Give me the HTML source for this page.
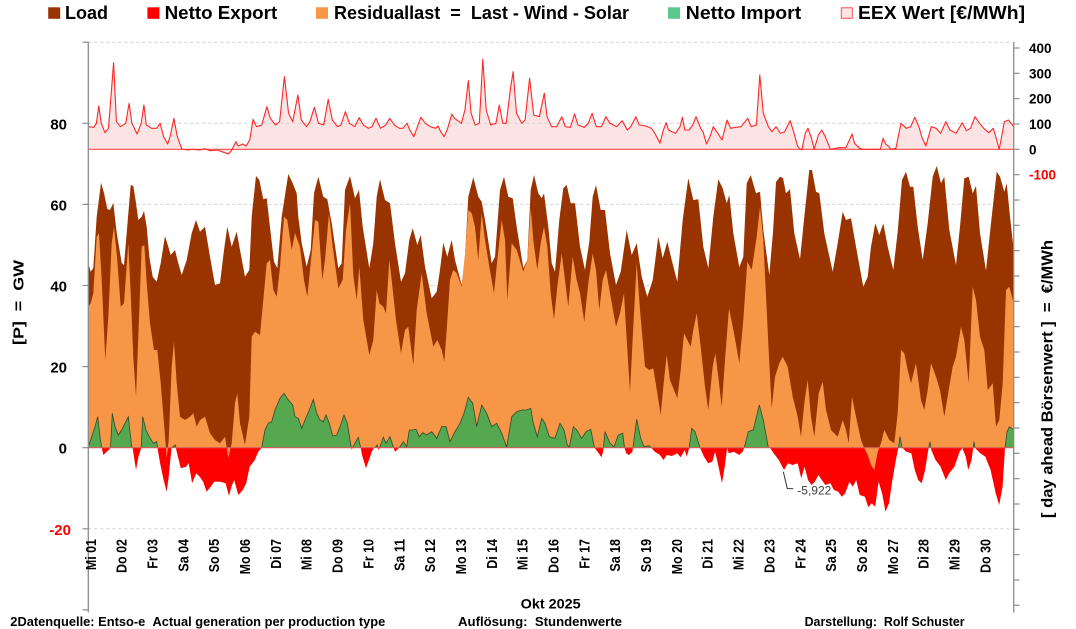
<!DOCTYPE html>
<html><head><meta charset="utf-8"><style>
html,body{margin:0;padding:0;background:#fff;}
svg{display:block;}
text{font-family:"Liberation Sans",Arial,sans-serif;font-weight:bold;}
</style></head><body>
<svg width="1076" height="629" viewBox="0 0 1076 629" xmlns="http://www.w3.org/2000/svg">
<defs>
<clipPath id="ca"><rect x="88.3" y="0" width="926" height="447.7"/></clipPath>
<clipPath id="cb"><rect x="88.3" y="447.7" width="926" height="180"/></clipPath>
<polygon id="np" points="88.3,447.7 88.3,446.7 91.7,436.7 95,426.7 97.7,416.7 100,436.7 101.7,447.7 103.3,455 106.7,451.7 109.5,449.3 110.5,447.7 112.3,413.3 115,426.7 118.3,435 121.7,430 125,423.3 128.3,416.7 131.7,446.7 132.6,448 136,470 138.4,456.7 141.2,448 142.7,416.7 146,430 149.3,436.7 153.3,443.3 156.7,441.7 157.5,448 160.1,463.3 163.6,480 166.7,491.7 168.7,476.7 171.5,448 174,446 175.5,445 176.3,450 180.8,468.3 186,466.7 188.7,463.3 192.1,483.3 196.3,473.3 199.7,476.7 203.2,481.7 206.6,491.7 210.7,486.7 214.2,481.7 220.4,481.7 225.6,483.3 229,496 231.4,486.7 234.2,480 238.3,495 242.8,490 246.2,483.3 249.7,466.7 254.8,460 258.3,451.7 261.7,447.7 265,430 268.3,423.3 271.7,421.7 275,410 280,398.3 284,393.3 288.3,400 292.7,405 295,416.7 298.3,418.3 301.7,428.3 305,420 309.3,410 313.3,399.3 316.7,413.3 320,420 323.3,421.7 326,415 329.3,423.3 332.7,436 336.7,435 340,426.7 344,415 347.3,423.3 350,440 351.7,450 352.7,447.3 358.3,437.3 360.7,447.7 362,455 366,468.3 369,460 372,451 374,448 375,447.7 377.3,445 378.3,450 380,446.7 383.3,437.3 386,443.3 390,436.7 393.3,446.7 395,451.7 397,450 400,446.7 403.3,441.7 406.7,446.7 409.3,430 412.7,430 416,429.3 419.3,436.7 422.7,432.7 426.7,435 431.7,431.7 436.7,438.3 441.7,426.7 446,426.7 450,441.7 455,431.7 460,423.3 464,413.3 468.3,397.3 472.7,403.3 476.7,426.7 481.7,405 486.7,413.3 491.7,426.7 496.7,423.3 501.7,433.3 506.7,447.3 511.7,416.7 516.7,411.7 521.7,410 526.7,410 530.7,408.3 533.3,423.3 537.3,436.7 541.7,418.3 545,423.3 549.3,436.7 555,438.3 560,423.3 564,430 567.3,445 569.3,447.3 573.3,426.7 576.7,430 581.7,438.3 586,431.7 590.7,429.3 594.5,447.7 598.7,453.3 601.4,457.3 603.1,451.7 605,431.7 610,443.3 614,446.7 618.3,435 622.7,433.3 624.5,447.7 626.2,453.3 629,455 632.4,451.7 636.7,419.3 640.7,438.3 644,446.7 649.3,445.7 651.4,448 654.8,451.7 660,455 663.4,460 666.9,455 672,456 677.2,453.3 680.6,457.3 684.8,450 686.8,456.7 689.2,448 691.7,428.3 695,431.7 700,447.7 704,456.7 708.2,463.3 712.3,461.7 715.1,451.7 717.8,463.3 722,483.3 724.7,466.7 727.1,448 728.8,453.3 734,451.7 739.2,455 742.6,451.7 744.3,447.7 748.3,431.7 753.3,430 759.3,405 763.3,420 768.3,447.7 770.2,448 773.6,453.3 778.8,460 784,470 788,463.3 792.5,465 797.7,463.3 801.2,478.3 804.6,466.7 808,480 811.5,485 814.9,481.7 818.4,475 821.8,480 825.3,485 830.4,483.3 833.9,490 838.3,491.7 841.8,496.7 845.2,493.3 849.4,481.7 852.8,486.7 856.2,480 859.7,495 864.9,496.7 868.3,507.3 871.7,503.3 875.2,506.7 878.6,481.7 882.1,493.3 885.5,511.7 889,503.3 892.4,480 895.9,460 898.3,448 900,436.7 902,447.7 902.7,448 906.2,451.7 911.3,453.3 914.8,470 918.2,480 921.7,483.3 925.1,470 928.6,448 930,441.7 931.3,450 935.5,460 940.6,466.7 945.8,480 949.2,473.3 954.4,466.7 959.6,451.7 962.3,448 965.8,456.7 968.2,470 971.6,460 974,441.7 975.1,448 980.2,453.3 985.4,456.7 990.6,470 995.7,493.3 999.2,505 1002.6,486.7 1005,448 1007,432 1009.3,426.7 1013.7,430 1013.7,447.7"/>
</defs>
<rect width="1076" height="629" fill="#fff"/>

<!-- price fill -->
<polygon fill="#FDE4E4" points="88.8,149.3 88.8,126.7 93.7,127.3 96.4,123.3 98.8,106 101.2,123.3 105,132.7 108.5,128.3 113.6,62.7 116.4,121.7 120.5,126.7 125.7,123.3 129.1,103.3 131.9,123.3 137.1,134 141.2,123.3 143.9,105 146.3,125 151.5,128.3 156.7,128.3 160.1,123.3 163.6,136.7 167.7,144 170.5,135 173.9,118.3 177.3,136.7 181.8,149 187.7,150 192.8,149.3 199.7,150 204.9,148.7 210,150.7 217,150 222.1,151.7 228.3,154 231.4,150.7 235.9,141.7 238.3,146 242.8,144 246.2,146 249.7,140 253.1,119.3 256.5,126.7 261.7,125 266.9,106.7 270.3,118.3 275.5,125 279.6,121.7 284.4,76.7 288.6,113.3 292.7,121.7 297.9,95 301.3,120 306.5,126.7 309.9,121.7 314.4,107.3 318.5,123.3 323.7,125 328.2,99.3 332.3,120 337.5,126.7 340.9,125 345.4,111.7 349.5,123.3 354.7,126.7 359.2,117.7 363.3,125 368.5,128.3 371.9,126.7 376,118.3 380.5,128.3 385.7,125 389.8,118.3 394.3,125 399.4,128.3 402.9,128.3 407,123.3 409.8,130 413.9,136.7 417.4,126.7 420.8,117.3 425.3,123.3 430.4,126.7 435.6,128.3 438,126 440.8,131.7 444.2,136.7 447.7,128.3 451.8,114 454.5,118.3 461.4,123.3 464.9,110 468.3,80.7 471.1,113.3 475.2,125 479.3,123.3 482.8,59.3 486.2,110 490.7,125 495.9,123.3 499.3,105 502.8,123.3 506.2,123.3 510.3,90 513.1,71.7 516.5,113.3 521.7,123.3 525.1,120 529.6,78.3 533.7,115 539.4,116.7 544.3,93.3 547,116.7 551.5,126.7 556.7,126.7 561.8,116.7 565.3,126.7 570.4,127.3 574.6,114 578,125 584.2,127.3 588.3,123.3 592.1,113.3 596.3,126.7 601.4,126.7 605.9,116.7 610,123.3 616.9,126.7 622.1,120.7 627.3,130 630.7,126.7 635.9,116.7 639.3,125 645.5,126 651.4,128.3 654.8,133.3 660,143.3 663.4,130 666.2,122.7 668.6,130 672,131.7 675.5,133.3 680,126.7 682.4,117.3 684.8,130 689.2,130 692.7,125 696.1,116.7 700.6,128.3 703,131.7 706.5,144 709.9,136.7 713.3,126.7 717.8,133.3 722,140 727.1,120 730.6,128.3 735.7,127.3 740.9,126.7 747.8,118.3 751.2,126.7 756.4,125 759.8,75 763.3,113.3 768.4,126.7 771.9,131.7 776,126.7 780.5,133.3 784.6,131.7 790.1,120.7 793.6,131.7 797.7,146.7 801.8,150 805.3,133.3 808,128.3 811.5,138.3 814.2,149.3 818.4,135 821.8,130 825.3,136.7 830.4,149.3 839,147.7 845.9,147.7 849.4,140 852.1,134 854.5,143.3 859.7,148.3 863.1,149.3 880.4,149.3 883.1,138.3 885.5,144 889,146.7 890.7,149.3 895.9,148.3 901,123.3 906.2,128.3 910.7,126.7 914.8,117.3 918.9,126.7 921.7,136.7 925.8,146 931.3,126.7 936.1,128.3 940.6,133.3 945.8,121.7 949.9,130 956.1,133.3 962.3,122.7 966.4,130.7 970.6,128.3 975,116.7 979.5,123.3 983.7,128.3 988.8,132.7 993.3,128.3 996.7,140 999.2,149.3 1001.6,136.7 1004.3,121.7 1008.5,120 1013.7,126.7 1013.7,149.3"/>

<!-- gridlines -->
<g stroke="#D0D0D0" stroke-width="1" stroke-dasharray="3,3">
<line x1="88.3" y1="42.2" x2="1013.7" y2="42.2"/>
<line x1="88.3" y1="123.3" x2="1013.7" y2="123.3"/>
<line x1="88.3" y1="204.4" x2="1013.7" y2="204.4"/>
<line x1="88.3" y1="285.5" x2="1013.7" y2="285.5"/>
<line x1="88.3" y1="366.6" x2="1013.7" y2="366.6"/>
<line x1="88.3" y1="528.8" x2="1013.7" y2="528.8"/>
</g>

<!-- Load -->
<polygon fill="#993300" points="88.3,447.7 88.3,263.3 90.7,271.7 93.3,268 96.7,216.7 101,182.7 104,193 107.3,209 110,210 113.3,203 116.7,233 121.7,263 124,265 126.7,233 130.7,185 133.3,186 136,203 138.3,220 141.7,216.7 144,211 146.7,226.7 149.3,256.7 152.7,276.7 156.7,281.7 160.7,263.3 165,236 168.3,246.7 170.7,255 175,250 178.3,263.3 181.7,275 186.7,260 191.7,233.3 196,220 200,231.7 205,226.7 210,256.7 215,285 220,283.3 224,250 227.3,226.7 231.7,246.7 236.7,231.7 240,250 245,276.7 249.3,270 251.7,216.7 256,176 259.3,180 263.3,199.3 266.7,198.3 270.7,233.3 274,261.7 277.3,268.3 281.7,216.7 288.3,174 292.7,183.3 296.7,193.3 298.3,216.7 301.7,243.3 306.7,266.7 310.7,250 314,193.3 318.3,176.7 323.3,196.7 327.3,199.3 331.7,223.3 338.3,268.3 341.7,263.3 345,190 350,176 355,198.3 359,190 362.7,226.7 369.3,268.3 373.3,243.3 376.7,196.7 380,179.3 385,200 390,203.3 395,243.3 401,281.7 405,273.3 409.3,240 412.7,228.3 417.3,245 420.7,235 425,266.7 431.7,298.3 436.7,291.7 440,270 443.3,242.7 447.3,256.7 451.7,240 455,260 461.7,285 465,256.7 468.3,196.7 473.3,177.3 478.3,196.7 481.7,201.7 485,220 491.7,263.3 495,256.7 500,190 504,176.7 508.3,196.7 512.7,198.3 516.7,226.7 523.3,268.3 527.3,260 530.7,190 534,175 538.3,193.3 541.7,198.3 544,193.3 548.3,226.7 551.7,263.3 555,271.7 559.3,220 563.3,188.3 566.7,185 570.7,203.3 575,203.3 580,246.7 585,270 589.3,241.7 592.7,196.7 596,185 600.7,210 605,210 610,253.3 616,285 620.7,271.7 626.7,230 631.7,255 636.7,243.3 641.7,276.7 647.3,296.7 652.7,280 658.3,236.7 662.7,258.3 667.3,241.7 671.7,260 677.3,281.7 682.7,220 688.3,178.3 693.3,200 698.3,199.3 703.3,246.7 708.3,268.3 713.3,216.7 718.3,179.3 722.7,188.3 726.7,203.3 729.3,195 733.3,233.3 739.3,267.3 743.3,256.7 746.7,183.3 750.7,175 756,193.3 760,191.7 763.3,230 769.3,275 773,232 776,182 780,176.7 783,178 786,193.3 790,189.3 794.3,233.3 800,259.3 804.3,216.7 809.3,170 812,170 816,191.7 819.3,193.3 824.3,233.3 832.7,271.7 837.7,243.3 842.7,211.7 846,220 851,218.3 856,246.7 863.3,286.7 867.7,276.7 871,246.7 875.3,223.3 879.3,235 883.3,223.3 887.7,246.7 893.3,270 897.7,231.7 902,180 906,171.7 910,186.7 913.3,186.7 917.7,226.7 922.7,260 927.7,223.3 932.7,176.7 936.7,166 941,183.3 944.3,176.7 949.3,230 956,265 960,226.7 964.3,178.3 968.7,176.7 972.7,193.3 976,186 980,233.3 986,270.7 991,223.3 996.7,171.7 1000,176.7 1004.3,191.7 1006.7,183.3 1010,216.7 1013.7,250 1013.7,447.7"/>

<!-- Netto Export (red, below zero) -->
<use href="#np" fill="#FF0000" clip-path="url(#cb)"/>

<!-- Residual -->
<polygon fill="#F79646" points="88.3,447.7 88.3,306.7 90.7,303.3 93.3,293.3 96.7,236.7 99,233.3 101.7,280 105.3,360 108.3,316.7 111.7,243.3 114,226.7 117.3,260 120.7,306.7 124,303.3 128.3,243.3 130.7,293.3 133.3,356.7 136,396.7 138.3,336.7 141.7,246.7 144.3,245 146.7,283.3 150,323.3 154,350 157.3,350 160.7,383.3 164,423.3 166.7,458 168.7,440 171.7,366.7 174,341.7 176.7,383.3 180,416.7 185,420 190,416.7 193.3,413.3 196.7,426.7 200,420 205,416.7 210,433.3 215,440 220,443.3 225,436.7 228.3,458 231.7,443.3 235,403.3 237.3,393.3 240,423.3 245,445 249.3,416.7 251.7,336.7 255,331.7 260,335 263.3,300 266.7,263.3 270,260 273.3,290 276.7,296.7 280,266.7 284,216.7 287.3,220 291.7,250 295,233 300,246.7 304,280 307.3,296.7 311.7,253.3 315,220 318.3,221.7 322.3,280 325,260 329,213.3 332.7,246.7 338.3,288.3 342.7,280 346,230 350,203.3 353.3,275 356.7,300 359.3,266.7 363.3,320 369.3,355 373.3,340 376.7,290 379.3,303.3 383.3,306.7 386,313.3 389.3,260 391.7,280 396,320 401,353.3 405,330 408.3,326.7 413.3,365 416.7,310 421.7,273.3 426.7,313.3 433.3,346.7 437.3,340 441.7,350 444.3,361.7 446.7,330 450,280 453.3,270 456.7,273.3 461.7,286.7 465,253.3 468.3,210 471.7,213.3 475,226.7 478.3,260 481.7,213.3 485,240 489.3,266.7 494,293.3 497.3,260 501.7,220 505,240 507.3,300 511.7,243.3 516.7,250 523.3,271.7 527.3,260 530.7,208 533.3,240 537.3,270 540.7,243.3 544,226.7 547.3,246.7 550.7,293.3 554,319.3 557.3,286.7 561.7,253.3 565,280 568.3,306.7 572.7,256.7 576.7,280 580,293.3 584.3,321.7 588.3,283.3 592.7,253.3 596,270 599.3,310 602.7,280 606,270 610,293.3 616,326.7 620,313.3 624,293.3 626.7,340 630,391.7 633.3,326.7 636.7,263.3 640,310 645,366.7 649.3,370 653.3,368.3 657.3,393.3 660.7,415 663.3,386.7 666.7,355 670,380 674,390 677.3,398.3 680.7,370 684,333.3 687.3,340 690.7,346.7 693.3,330 696.7,313.3 700.7,346.7 705,386.7 708.3,410 712.7,366.7 715.3,353.3 718.3,376.7 721.7,406.7 725,360 729,308.3 734,333.3 739.3,363.3 743.3,320 747.3,261.7 751.7,270 756.7,236.7 760,206.7 763.3,240 768.3,343.3 771.7,408.3 775,376.7 779.3,363.3 782.7,356.7 787.7,366.7 792.7,396.7 797.7,416.7 801,436.7 804.3,403.3 807.7,380 811,416.7 814.3,436.7 818.7,393.3 822.7,381.7 826,410 831,430 837.7,436.7 842.7,420 846,430 848.7,443.3 852,396.7 856,416.7 861,440 864.3,448.3 867.7,455 871,465 874.3,470 877.7,452 881,443.3 884.3,430 889.3,440 894.3,443.3 897.7,413.3 901,350 904.3,353.3 907.7,370 911,383.3 916,363.3 921,400 924.3,410 927.7,390 931,363.3 936,376.7 940,390 944.3,416.7 948.7,390 952.7,366.7 956,356.7 961,326.7 964.3,340 968.7,383.3 972.7,286.7 976,300 980,336.7 984.3,350 987.7,390 992.7,383.3 996,426.7 999.3,420 1002.7,383.3 1006,290 1009.3,286.7 1013.7,303.3 1013.7,447.7"/>

<!-- Netto Import (green, above zero) -->
<use href="#np" fill="#55A84F" stroke="#2E4A2E" stroke-width="0.8" clip-path="url(#ca)"/>

<!-- zero line GW -->
<line x1="88.3" y1="447.7" x2="1013.7" y2="447.7" stroke="#F06060" stroke-width="1"/>

<!-- price baseline & line -->
<line x1="88.8" y1="149.3" x2="1013.7" y2="149.3" stroke="#FF4A4A" stroke-width="1.2"/>
<polyline fill="none" stroke="#FF2626" stroke-width="1.1" stroke-linejoin="round" points="88.8,126.7 93.7,127.3 96.4,123.3 98.8,106 101.2,123.3 105,132.7 108.5,128.3 113.6,62.7 116.4,121.7 120.5,126.7 125.7,123.3 129.1,103.3 131.9,123.3 137.1,134 141.2,123.3 143.9,105 146.3,125 151.5,128.3 156.7,128.3 160.1,123.3 163.6,136.7 167.7,144 170.5,135 173.9,118.3 177.3,136.7 181.8,149 187.7,150 192.8,149.3 199.7,150 204.9,148.7 210,150.7 217,150 222.1,151.7 228.3,154 231.4,150.7 235.9,141.7 238.3,146 242.8,144 246.2,146 249.7,140 253.1,119.3 256.5,126.7 261.7,125 266.9,106.7 270.3,118.3 275.5,125 279.6,121.7 284.4,76.7 288.6,113.3 292.7,121.7 297.9,95 301.3,120 306.5,126.7 309.9,121.7 314.4,107.3 318.5,123.3 323.7,125 328.2,99.3 332.3,120 337.5,126.7 340.9,125 345.4,111.7 349.5,123.3 354.7,126.7 359.2,117.7 363.3,125 368.5,128.3 371.9,126.7 376,118.3 380.5,128.3 385.7,125 389.8,118.3 394.3,125 399.4,128.3 402.9,128.3 407,123.3 409.8,130 413.9,136.7 417.4,126.7 420.8,117.3 425.3,123.3 430.4,126.7 435.6,128.3 438,126 440.8,131.7 444.2,136.7 447.7,128.3 451.8,114 454.5,118.3 461.4,123.3 464.9,110 468.3,80.7 471.1,113.3 475.2,125 479.3,123.3 482.8,59.3 486.2,110 490.7,125 495.9,123.3 499.3,105 502.8,123.3 506.2,123.3 510.3,90 513.1,71.7 516.5,113.3 521.7,123.3 525.1,120 529.6,78.3 533.7,115 539.4,116.7 544.3,93.3 547,116.7 551.5,126.7 556.7,126.7 561.8,116.7 565.3,126.7 570.4,127.3 574.6,114 578,125 584.2,127.3 588.3,123.3 592.1,113.3 596.3,126.7 601.4,126.7 605.9,116.7 610,123.3 616.9,126.7 622.1,120.7 627.3,130 630.7,126.7 635.9,116.7 639.3,125 645.5,126 651.4,128.3 654.8,133.3 660,143.3 663.4,130 666.2,122.7 668.6,130 672,131.7 675.5,133.3 680,126.7 682.4,117.3 684.8,130 689.2,130 692.7,125 696.1,116.7 700.6,128.3 703,131.7 706.5,144 709.9,136.7 713.3,126.7 717.8,133.3 722,140 727.1,120 730.6,128.3 735.7,127.3 740.9,126.7 747.8,118.3 751.2,126.7 756.4,125 759.8,75 763.3,113.3 768.4,126.7 771.9,131.7 776,126.7 780.5,133.3 784.6,131.7 790.1,120.7 793.6,131.7 797.7,146.7 801.8,150 805.3,133.3 808,128.3 811.5,138.3 814.2,149.3 818.4,135 821.8,130 825.3,136.7 830.4,149.3 839,147.7 845.9,147.7 849.4,140 852.1,134 854.5,143.3 859.7,148.3 863.1,149.3 880.4,149.3 883.1,138.3 885.5,144 889,146.7 890.7,149.3 895.9,148.3 901,123.3 906.2,128.3 910.7,126.7 914.8,117.3 918.9,126.7 921.7,136.7 925.8,146 931.3,126.7 936.1,128.3 940.6,133.3 945.8,121.7 949.9,130 956.1,133.3 962.3,122.7 966.4,130.7 970.6,128.3 975,116.7 979.5,123.3 983.7,128.3 988.8,132.7 993.3,128.3 996.7,140 999.2,149.3 1001.6,136.7 1004.3,121.7 1008.5,120 1013.7,126.7"/>

<!-- annotation -->
<polyline fill="none" stroke="#333" stroke-width="1" points="783.3,471.7 787.3,488.5 793.3,488.8"/>
<text x="797.3" y="494.5" font-size="12" fill="#404040" style="font-weight:normal" textLength="34" lengthAdjust="spacingAndGlyphs">-5,922</text>

<!-- axes -->
<line x1="88.3" y1="42" x2="88.3" y2="612.5" stroke="#8C8C8C" stroke-width="1.3"/>
<line x1="1013.7" y1="42" x2="1013.7" y2="612.5" stroke="#8C8C8C" stroke-width="1.3"/>
<g stroke="#8C8C8C" stroke-width="1.2">
<line x1="82.5" y1="42.2" x2="88.3" y2="42.2"/>
<line x1="82.5" y1="123.3" x2="88.3" y2="123.3"/>
<line x1="82.5" y1="204.4" x2="88.3" y2="204.4"/>
<line x1="82.5" y1="285.5" x2="88.3" y2="285.5"/>
<line x1="82.5" y1="366.6" x2="88.3" y2="366.6"/>
<line x1="82.5" y1="447.7" x2="88.3" y2="447.7"/>
<line x1="82.5" y1="528.8" x2="88.3" y2="528.8"/>
<line x1="82.5" y1="609.9" x2="88.3" y2="609.9"/>
<line x1="1013.7" y1="48" x2="1019.5" y2="48"/>
<line x1="1013.7" y1="73.3" x2="1019.5" y2="73.3"/>
<line x1="1013.7" y1="98.6" x2="1019.5" y2="98.6"/>
<line x1="1013.7" y1="124" x2="1019.5" y2="124"/>
<line x1="1013.7" y1="149.3" x2="1019.5" y2="149.3"/>
<line x1="1013.7" y1="174.6" x2="1019.5" y2="174.6"/>
<line x1="1013.7" y1="200" x2="1019.5" y2="200"/>
<line x1="1013.7" y1="225.3" x2="1019.5" y2="225.3"/>
<line x1="1013.7" y1="250.6" x2="1019.5" y2="250.6"/>
<line x1="1013.7" y1="276" x2="1019.5" y2="276"/>
<line x1="1013.7" y1="301.3" x2="1019.5" y2="301.3"/>
<line x1="1013.7" y1="326.6" x2="1019.5" y2="326.6"/>
<line x1="1013.7" y1="352" x2="1019.5" y2="352"/>
<line x1="1013.7" y1="377.3" x2="1019.5" y2="377.3"/>
<line x1="1013.7" y1="402.6" x2="1019.5" y2="402.6"/>
<line x1="1013.7" y1="428" x2="1019.5" y2="428"/>
<line x1="1013.7" y1="453.3" x2="1019.5" y2="453.3"/>
<line x1="1013.7" y1="478.6" x2="1019.5" y2="478.6"/>
<line x1="1013.7" y1="504" x2="1019.5" y2="504"/>
<line x1="1013.7" y1="529.3" x2="1019.5" y2="529.3"/>
<line x1="1013.7" y1="554.6" x2="1019.5" y2="554.6"/>
<line x1="1013.7" y1="580" x2="1019.5" y2="580"/>
<line x1="1013.7" y1="605.3" x2="1019.5" y2="605.3"/>
</g>

<!-- left tick labels -->
<g font-size="15" fill="#000" text-anchor="end">
<text x="67" y="129.3">80</text>
<text x="67" y="210.4">60</text>
<text x="67" y="291.5">40</text>
<text x="67" y="372.6">20</text>
<text x="67" y="453.7">0</text>
<text x="71" y="534.8" fill="#FF0000">-20</text>
</g>
<!-- right tick labels -->
<g font-size="13.5" fill="#000">
<text x="1029" y="53">400</text>
<text x="1029" y="78.3">300</text>
<text x="1029" y="103.6">200</text>
<text x="1029" y="129">100</text>
<text x="1029" y="154.3">0</text>
<text x="1029" y="179.6" fill="#FF0000">-100</text>
</g>

<!-- axis titles -->
<text transform="translate(23.5,302.5) rotate(-90)" font-size="15" text-anchor="middle" textLength="85" lengthAdjust="spacingAndGlyphs">[P]&#160;&#160;=&#160;&#160;GW</text>
<text transform="translate(1052.5,379) rotate(-90)" font-size="16" text-anchor="middle" textLength="278" lengthAdjust="spacingAndGlyphs">[ day ahead Börsenwert ]&#160;&#160;=&#160;&#160;€/MWh</text>

<!-- x labels -->
<g font-size="14.5" fill="#000" text-anchor="end">
<text transform="translate(95.8,539) rotate(-90) scale(0.86,1)">Mi 01</text>
<text transform="translate(126.6,539) rotate(-90) scale(0.86,1)">Do 02</text>
<text transform="translate(157.5,539) rotate(-90) scale(0.86,1)">Fr 03</text>
<text transform="translate(188.3,539) rotate(-90) scale(0.86,1)">Sa 04</text>
<text transform="translate(219.2,539) rotate(-90) scale(0.86,1)">So 05</text>
<text transform="translate(250,539) rotate(-90) scale(0.86,1)">Mo 06</text>
<text transform="translate(280.9,539) rotate(-90) scale(0.86,1)">Di 07</text>
<text transform="translate(311.7,539) rotate(-90) scale(0.86,1)">Mi 08</text>
<text transform="translate(342.6,539) rotate(-90) scale(0.86,1)">Do 09</text>
<text transform="translate(373.4,539) rotate(-90) scale(0.86,1)">Fr 10</text>
<text transform="translate(404.3,539) rotate(-90) scale(0.86,1)">Sa 11</text>
<text transform="translate(435.1,539) rotate(-90) scale(0.86,1)">So 12</text>
<text transform="translate(466,539) rotate(-90) scale(0.86,1)">Mo 13</text>
<text transform="translate(496.8,539) rotate(-90) scale(0.86,1)">Di 14</text>
<text transform="translate(527.7,539) rotate(-90) scale(0.86,1)">Mi 15</text>
<text transform="translate(558.5,539) rotate(-90) scale(0.86,1)">Do 16</text>
<text transform="translate(589.4,539) rotate(-90) scale(0.86,1)">Fr 17</text>
<text transform="translate(620.2,539) rotate(-90) scale(0.86,1)">Sa 18</text>
<text transform="translate(651,539) rotate(-90) scale(0.86,1)">So 19</text>
<text transform="translate(681.9,539) rotate(-90) scale(0.86,1)">Mo 20</text>
<text transform="translate(712.7,539) rotate(-90) scale(0.86,1)">Di 21</text>
<text transform="translate(743.6,539) rotate(-90) scale(0.86,1)">Mi 22</text>
<text transform="translate(774.4,539) rotate(-90) scale(0.86,1)">Do 23</text>
<text transform="translate(805.3,539) rotate(-90) scale(0.86,1)">Fr 24</text>
<text transform="translate(836.1,539) rotate(-90) scale(0.86,1)">Sa 25</text>
<text transform="translate(867,539) rotate(-90) scale(0.86,1)">So 26</text>
<text transform="translate(897.8,539) rotate(-90) scale(0.86,1)">Mo 27</text>
<text transform="translate(928.7,539) rotate(-90) scale(0.86,1)">Di 28</text>
<text transform="translate(959.5,539) rotate(-90) scale(0.86,1)">Mi 29</text>
<text transform="translate(990.4,539) rotate(-90) scale(0.86,1)">Do 30</text>
</g>

<text x="520.7" y="608.3" font-size="14" textLength="60" lengthAdjust="spacingAndGlyphs">Okt 2025</text>

<!-- footer -->
<g font-size="13">
<text x="10.3" y="626" textLength="375" lengthAdjust="spacingAndGlyphs">2Datenquelle: Entso-e&#160;&#160;Actual generation per production type</text>
<text x="458" y="626" textLength="164" lengthAdjust="spacingAndGlyphs">Auflösung:&#160;&#160;Stundenwerte</text>
<text x="804.6" y="626" textLength="160" lengthAdjust="spacingAndGlyphs">Darstellung:&#160;&#160;Rolf Schuster</text>
</g>

<!-- legend -->
<rect x="48.2" y="7.3" width="12" height="11.5" fill="#993300"/>
<text x="65" y="19" font-size="18" textLength="43" lengthAdjust="spacingAndGlyphs">Load</text>
<rect x="147.4" y="7.3" width="12" height="11.5" fill="#FF0000"/>
<text x="164.6" y="19" font-size="18" textLength="112.6" lengthAdjust="spacingAndGlyphs">Netto Export</text>
<rect x="316" y="7.3" width="12" height="11.5" fill="#F79646"/>
<text x="334" y="19" font-size="18" textLength="295" lengthAdjust="spacingAndGlyphs">Residuallast&#160;&#160;=&#160;&#160;Last - Wind - Solar</text>
<rect x="668" y="7.3" width="12" height="11.5" fill="#5BC98B"/>
<text x="685.8" y="19" font-size="18" textLength="115.4" lengthAdjust="spacingAndGlyphs">Netto Import</text>
<rect x="841.3" y="7.8" width="11" height="10.5" fill="#FDE4E4" stroke="#FF5050" stroke-width="1"/>
<text x="858" y="19" font-size="18" textLength="167" lengthAdjust="spacingAndGlyphs">EEX Wert [€/MWh]</text>
</svg>
</body></html>
